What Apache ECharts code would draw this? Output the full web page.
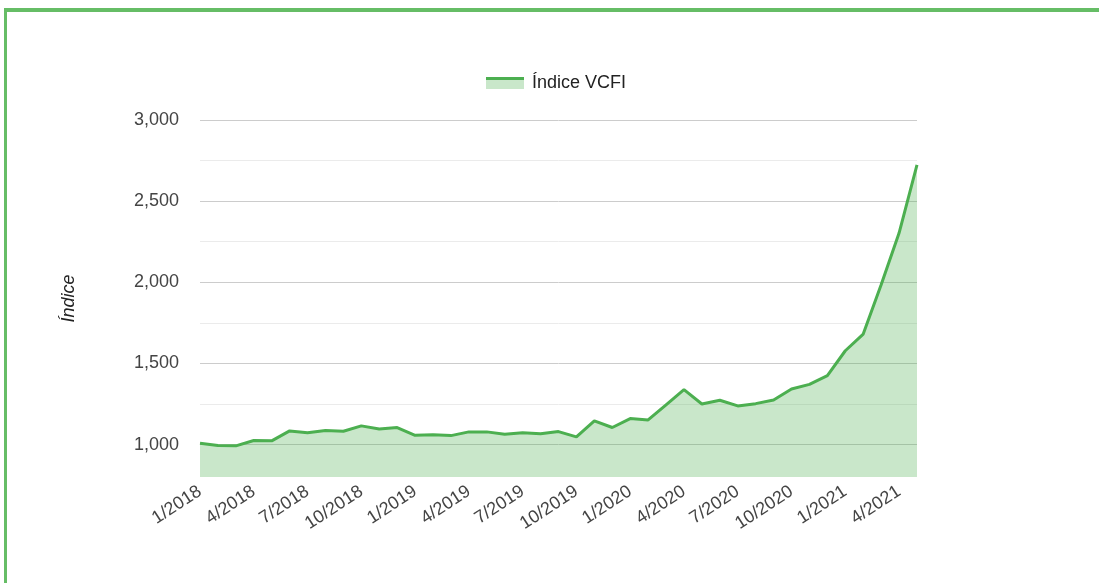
<!DOCTYPE html>
<html lang="es">
<head>
  <meta charset="utf-8">
  <script src="https://cdn.jsdelivr.net/npm/echarts@6/dist/echarts.min.js"></script>
</head>
<body style="height: 100%; margin: 0; overflow: hidden; background: #fff">
  <div id="frame" style="position: absolute; left: 4px; top: 8px; width: 2000px; height: 2000px; border-left: 3px solid #66bd66; border-top: 4px solid #66bd66;"></div>
  <div id="container" style="position: absolute; left: 0; top: 0; width: 1099px; height: 583px"></div>

  <script type="text/javascript">
    // months shown on the x axis (one point per month)
    const months = [
      '1/2018', '2/2018', '3/2018', '4/2018', '5/2018', '6/2018', '7/2018', '8/2018', '9/2018', '10/2018', '11/2018', '12/2018',
      '1/2019', '2/2019', '3/2019', '4/2019', '5/2019', '6/2019', '7/2019', '8/2019', '9/2019', '10/2019', '11/2019', '12/2019',
      '1/2020', '2/2020', '3/2020', '4/2020', '5/2020', '6/2020', '7/2020', '8/2020', '9/2020', '10/2020', '11/2020', '12/2020',
      '1/2021', '2/2021', '3/2021', '4/2021', '5/2021'
    ];
    // índice VCFI values
    const vcfi = [
      1008, 994, 992, 1025, 1023, 1084, 1072, 1086, 1082, 1115, 1096, 1105,
      1057, 1061, 1055, 1078, 1078, 1063, 1072, 1066, 1080, 1047, 1146, 1105,
      1160, 1152, 1245, 1338, 1250, 1273, 1238, 1252, 1275, 1342, 1371, 1425,
      1578, 1681, 1985, 2303, 2723
    ];
    const yLabelTicks = [1000, 1500, 2000, 2500, 3000];
    const yGridTicks = [1000, 1250, 1500, 1750, 2000, 2250, 2500, 2750, 3000];

    const green = '#4caf50';
    const lightGreen = '#c9e7ca';
    const font = '"Liberation Sans", Arial, sans-serif';

    var dom = document.getElementById('container');
    var myChart = echarts.init(dom, null, { renderer: 'canvas' });

    var option = {
      animation: false,
      legend: {
        top: 74,
        left: 486,
        padding: 0,
        itemWidth: 38,
        itemHeight: 12,
        data: [{
          name: 'Índice VCFI',
          icon: 'rect',
          itemStyle: {
            color: {
              type: 'linear', x: 0, y: 0, x2: 0, y2: 1,
              colorStops: [
                { offset: 0, color: green },
                { offset: 0.28, color: green },
                { offset: 0.28, color: lightGreen },
                { offset: 1, color: lightGreen }
              ]
            }
          }
        }],
        textStyle: { fontFamily: font, fontSize: 18, color: '#222', padding: [0, 0, 0, 3] }
      },
      grid: { left: 200, right: 182, top: 120, bottom: 106 },
      xAxis: {
        type: 'category',
        data: months,
        boundaryGap: false,
        axisLine: { show: false },
        axisTick: { show: false },
        axisLabel: {
          interval: 2,
          rotate: 33,
          margin: 13,
          fontFamily: font,
          fontSize: 18,
          color: '#444'
        }
      },
      yAxis: {
        type: 'value',
        min: 800,
        max: 3000,
        name: 'Índice',
        nameLocation: 'middle',
        nameGap: 122,
        nameTextStyle: { fontFamily: font, fontSize: 18, fontStyle: 'italic', color: '#222' },
        axisLine: { show: false },
        axisTick: { show: false, customValues: yGridTicks },
        axisLabel: {
          customValues: yLabelTicks,
          margin: 21,
          fontFamily: font,
          fontSize: 18,
          color: '#444',
          formatter: function (v) { return v.toLocaleString('en-US'); }
        },
        splitLine: {
          show: true,
          lineStyle: { color: ['#cccccc', '#ebebeb'], width: 1 }
        }
      },
      series: [{
        name: 'Índice VCFI',
        type: 'line',
        data: vcfi,
        symbol: 'none',
        lineStyle: { color: green, width: 3 },
        itemStyle: { color: green },
        areaStyle: { color: green, opacity: 0.3 }
      }]
    };

    myChart.setOption(option);
    window.addEventListener('resize', myChart.resize);
  </script>
</body>
</html>
